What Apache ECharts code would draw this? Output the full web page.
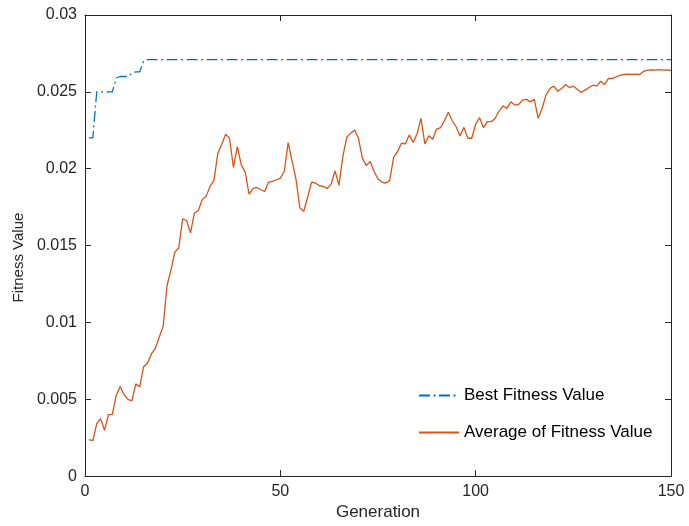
<!DOCTYPE html>
<html>
<head>
<meta charset="utf-8">
<title>Fitness curve</title>
<script src="https://cdn.jsdelivr.net/npm/echarts@6/dist/echarts.min.js"></script>
<style>
  html, body { margin: 0; padding: 0; background: #fff; }
  #chart { width: 689px; height: 526px; }
</style>
</head>
<body>
<div id="chart"></div>
<script>
// Generation index 1..150
const generations = Array.from({ length: 150 }, (_, i) => i + 1);

// Best fitness value per generation
const bestFitness = [
  0.0220, 0.0220, 0.0250, 0.0250, 0.0250, 0.0250, 0.0250, 0.0259, 0.0260, 0.0260,
  0.0260, 0.0262, 0.0263, 0.0263, 0.0270, 0.0271, 0.0271, 0.0271, 0.0271, 0.0271,
  0.0271, 0.0271, 0.0271, 0.0271, 0.0271, 0.0271, 0.0271, 0.0271, 0.0271, 0.0271,
  0.0271, 0.0271, 0.0271, 0.0271, 0.0271, 0.0271, 0.0271, 0.0271, 0.0271, 0.0271,
  0.0271, 0.0271, 0.0271, 0.0271, 0.0271, 0.0271, 0.0271, 0.0271, 0.0271, 0.0271,
  0.0271, 0.0271, 0.0271, 0.0271, 0.0271, 0.0271, 0.0271, 0.0271, 0.0271, 0.0271,
  0.0271, 0.0271, 0.0271, 0.0271, 0.0271, 0.0271, 0.0271, 0.0271, 0.0271, 0.0271,
  0.0271, 0.0271, 0.0271, 0.0271, 0.0271, 0.0271, 0.0271, 0.0271, 0.0271, 0.0271,
  0.0271, 0.0271, 0.0271, 0.0271, 0.0271, 0.0271, 0.0271, 0.0271, 0.0271, 0.0271,
  0.0271, 0.0271, 0.0271, 0.0271, 0.0271, 0.0271, 0.0271, 0.0271, 0.0271, 0.0271,
  0.0271, 0.0271, 0.0271, 0.0271, 0.0271, 0.0271, 0.0271, 0.0271, 0.0271, 0.0271,
  0.0271, 0.0271, 0.0271, 0.0271, 0.0271, 0.0271, 0.0271, 0.0271, 0.0271, 0.0271,
  0.0271, 0.0271, 0.0271, 0.0271, 0.0271, 0.0271, 0.0271, 0.0271, 0.0271, 0.0271,
  0.0271, 0.0271, 0.0271, 0.0271, 0.0271, 0.0271, 0.0271, 0.0271, 0.0271, 0.0271,
  0.0271, 0.0271, 0.0271, 0.0271, 0.0271, 0.0271, 0.0271, 0.0271, 0.0271, 0.0271
];

// Average fitness value of the population per generation
const avgFitness = [
  0.00238, 0.00231, 0.00341, 0.00374, 0.00298, 0.00400, 0.00402, 0.00525, 0.00583, 0.00529,
  0.00499, 0.00490, 0.00600, 0.00581, 0.00712, 0.00736, 0.00795, 0.00831, 0.00903, 0.00974,
  0.01240, 0.01340, 0.01457, 0.01486, 0.01673, 0.01663, 0.01583, 0.01712, 0.01727, 0.01799,
  0.01820, 0.01885, 0.01922, 0.02101, 0.02159, 0.02224, 0.02198, 0.02008, 0.02144, 0.02025,
  0.01978, 0.01835, 0.01870, 0.01878, 0.01863, 0.01852, 0.01913, 0.01917, 0.01928, 0.01939,
  0.01982, 0.02170, 0.02051, 0.01933, 0.01745, 0.01723, 0.01816, 0.01913, 0.01907, 0.01889,
  0.01885, 0.01870, 0.01900, 0.01986, 0.01891, 0.02079, 0.02205, 0.02230, 0.02252, 0.02198,
  0.02069, 0.02021, 0.02047, 0.01982, 0.01933, 0.01913, 0.01907, 0.01924, 0.02073, 0.02111,
  0.02166, 0.02161, 0.02220, 0.02170, 0.02226, 0.02328, 0.02161, 0.02215, 0.02192, 0.02258,
  0.02267, 0.02312, 0.02367, 0.02312, 0.02273, 0.02213, 0.02269, 0.02198, 0.02198, 0.02291,
  0.02332, 0.02267, 0.02306, 0.02306, 0.02328, 0.02375, 0.02409, 0.02392, 0.02435, 0.02414,
  0.02418, 0.02446, 0.02451, 0.02435, 0.02451, 0.02328, 0.02392, 0.02479, 0.02522, 0.02537,
  0.02504, 0.02522, 0.02548, 0.02528, 0.02537, 0.02517, 0.02496, 0.02511, 0.02528, 0.02543,
  0.02539, 0.02569, 0.02548, 0.02587, 0.02587, 0.02597, 0.02608, 0.02613, 0.02615, 0.02613,
  0.02615, 0.02613, 0.02634, 0.02641, 0.02643, 0.02641, 0.02645, 0.02641, 0.02643, 0.02640
];

const yTickLabels = ['0', '0.005', '0.01', '0.015', '0.02', '0.025', '0.03'];
const seriesNames = ['Best Fitness Value', 'Average of Fitness Value'];

const axisColor = '#262626';
const fontFamily = 'Liberation Sans, Arial, sans-serif';

const chart = echarts.init(document.getElementById('chart'), null, { renderer: 'canvas' });

const frameLine = { show: true, onZero: false, lineStyle: { color: axisColor, width: 1 } };
const innerTick = { show: true, inside: true, length: 6, lineStyle: { color: axisColor } };

chart.setOption({
  animation: false,
  backgroundColor: '#ffffff',
  textStyle: { fontFamily },
  grid: { left: 85, right: 18, top: 15, bottom: 48, containLabel: false },
  legend: {
    orient: 'vertical',
    left: 418,
    top: 387,
    padding: 0,
    itemWidth: 40,
    itemHeight: 12,
    itemGap: 20,
    itemStyle: { opacity: 0 },
    textStyle: { fontSize: 17, color: '#000', fontFamily },
    data: seriesNames
  },
  xAxis: [
    {
      type: 'value', min: 0, max: 150, interval: 50,
      name: 'Generation', nameLocation: 'middle', nameGap: 25,
      nameTextStyle: { fontSize: 17, color: axisColor, fontFamily },
      axisLine: frameLine,
      axisTick: innerTick,
      axisLabel: { fontSize: 16, color: axisColor, margin: 7, fontFamily },
      splitLine: { show: false }
    },
    {
      type: 'value', min: 0, max: 150, interval: 50, position: 'top',
      axisLine: frameLine,
      axisTick: innerTick,
      axisLabel: { show: false },
      splitLine: { show: false }
    }
  ],
  yAxis: [
    {
      type: 'value', min: 0, max: 0.03, interval: 0.005,
      name: 'Fitness Value', nameLocation: 'middle', nameGap: 55, nameRotate: 90,
      nameTextStyle: { fontSize: 15, color: axisColor, fontFamily, padding: [0, 24, 0, 0] },
      axisLine: frameLine,
      axisTick: innerTick,
      axisLabel: {
        fontSize: 16, color: axisColor, margin: 8, fontFamily,
        formatter: (v) => yTickLabels[Math.round(v / 0.005)]
      },
      splitLine: { show: false }
    },
    {
      type: 'value', min: 0, max: 0.03, interval: 0.005, position: 'right',
      axisLine: frameLine,
      axisTick: innerTick,
      axisLabel: { show: false },
      splitLine: { show: false }
    }
  ],
  series: [
    {
      name: seriesNames[0],
      type: 'line',
      symbol: 'none',
      data: generations.map((g, i) => [g, bestFitness[i]]),
      lineStyle: { color: '#0072BD', width: 1.3, type: [11, 3.5, 2, 3.5] },
      itemStyle: { color: '#0072BD' }
    },
    {
      name: seriesNames[1],
      type: 'line',
      symbol: 'none',
      data: generations.map((g, i) => [g, avgFitness[i]]),
      lineStyle: { color: '#D95319', width: 1.3 },
      itemStyle: { color: '#D95319' }
    }
  ]
});
</script>
</body>
</html>
